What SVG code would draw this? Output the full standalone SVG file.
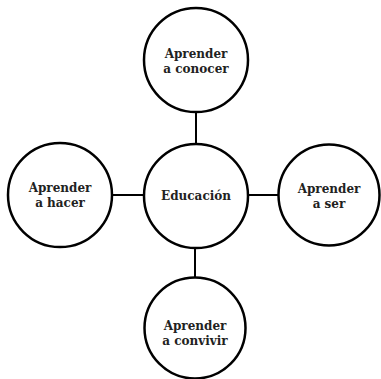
<svg xmlns="http://www.w3.org/2000/svg" width="381" height="379" viewBox="0 0 381 379">
<style>
.n{fill:#fff;stroke:#000;stroke-width:2.5}
.t{font-family:"DejaVu Serif","Liberation Serif",serif;font-weight:bold;font-size:12px;fill:#222;text-anchor:middle}
.c{stroke:#000;stroke-width:2;fill:none}
</style>
<rect width="381" height="379" fill="#fff"/>
<g id="connectors">
<line class="c" x1="196" y1="112" x2="196" y2="144"/>
<line class="c" x1="113" y1="195" x2="144" y2="195"/>
<line class="c" x1="248" y1="195" x2="279" y2="195"/>
<line class="c" x1="195" y1="248" x2="195" y2="278"/>
</g>
<g id="educacion">
<circle class="n" cx="196" cy="196" r="52"/>
<text class="t" x="196" y="200">Educación</text>
</g>
<g id="conocer">
<circle class="n" cx="196" cy="60" r="52"/>
<text class="t" x="196" y="58">Aprender</text>
<text class="t" x="196" y="73">a conocer</text>
</g>
<g id="hacer">
<circle class="n" cx="60" cy="195" r="52"/>
<text class="t" x="60" y="192">Aprender</text>
<text class="t" x="60" y="207">a hacer</text>
</g>
<g id="ser">
<circle class="n" cx="329" cy="195" r="50.5"/>
<text class="t" x="329" y="193">Aprender</text>
<text class="t" x="329" y="208">a ser</text>
</g>
<g id="convivir">
<circle class="n" cx="195" cy="328" r="50.5"/>
<text class="t" x="195" y="330">Aprender</text>
<text class="t" x="195" y="345">a convivir</text>
</g>
</svg>
